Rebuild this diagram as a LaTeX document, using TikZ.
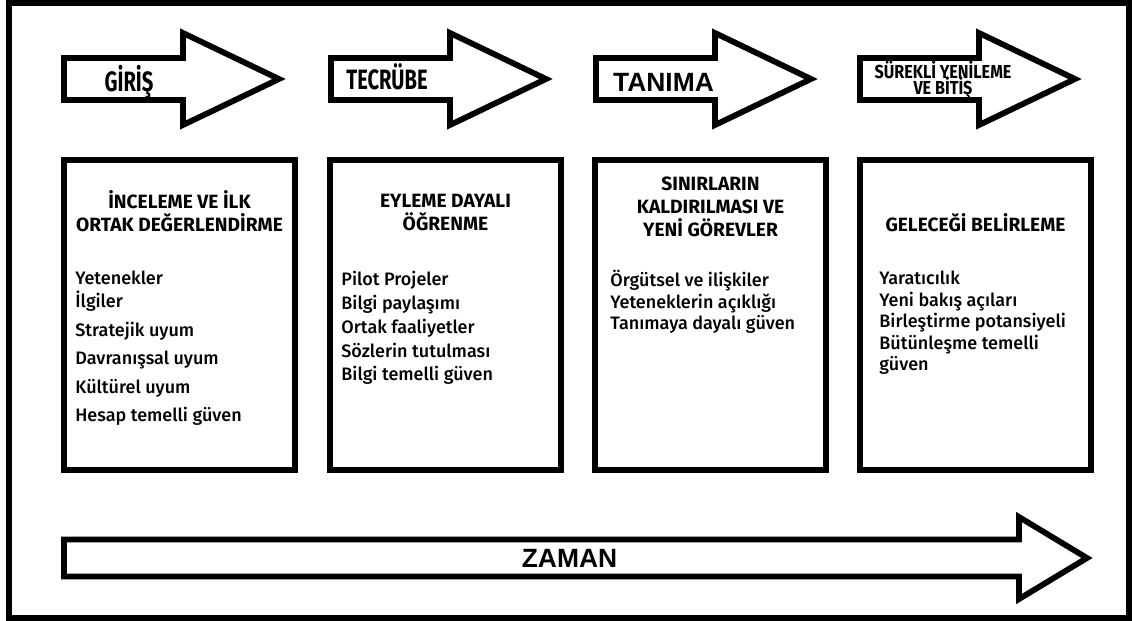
\documentclass[tikz,border=0pt]{standalone}
\usepackage{fontspec}
\setmainfont{Fira Sans}
\newfontfamily\itemfont{Fira Sans Medium}
\newfontfamily\narrowfont[FakeStretch=0.72]{Fira Sans}
\newfontfamily\midfont[FakeStretch=0.86]{Fira Sans}
\newfontfamily\widefont{Liberation Sans}
\newcommand\tightskip{\setlength{\lineskiplimit}{-20pt}}

\begin{document}
\begin{tikzpicture}[
    x=0.5pt, y=-0.5pt,
    outerframe/.style={draw, line width=3pt},
    phase/.style={draw, line width=2.9pt, line join=miter},
    card/.style={rectangle, draw, line width=2.9pt, minimum width=115.5pt, minimum height=155pt, inner sep=0pt},
    phasetext/.style={font=\narrowfont\bfseries\fontsize{14}{16}\selectfont, inner sep=0pt, anchor=base},
    widetext/.style={font=\widefont\bfseries\fontsize{13.2}{15}\selectfont, inner sep=0pt, anchor=base},
    smalltext/.style={font=\midfont\bfseries\fontsize{9.4}{8}\selectfont\tightskip, align=center, inner sep=0pt},
    cardtitle/.style={font=\bfseries\fontsize{9.6}{11.5}\selectfont, align=center, inner sep=0pt},
    items/.style={font=\itemfont\fontsize{9}{#1}\selectfont, align=left, inner sep=0pt, anchor=north west}
]
\useasboundingbox (0,0) rectangle (1132,621);

% Outer frame
\draw[outerframe] (9,3) rectangle (1129,618);

% Phase arrows along the top
\foreach \l in {64,331,596,860}
  \draw[phase] (\l,58) -- (\l+119,58) -- (\l+119,33) -- (\l+215,79)
    -- (\l+119,125) -- (\l+119,100) -- (\l,100) -- cycle;

\node[phasetext] (giris) at (129,91) {GİRİŞ};
\node[phasetext] (tecrube) at (387,90) {TECRÜBE};
\node[widetext] (tanima) at (663.5,91) {TANIMA};
\node[smalltext] (surekli) at (943,80) {SÜREKLİ YENİLEME\\VE BİTİŞ};

% Phase cards
\node[card] (card1) at (179.5,315) {};
\node[card] (card2) at (445.5,315) {};
\node[card] (card3) at (710.5,315) {};
\node[card] (card4) at (975.5,315) {};

% Card titles
\node[cardtitle] (title1) at (179.5,211) {İNCELEME VE İLK\\ORTAK DEĞERLENDİRME};
\node[cardtitle] (title2) at (445.5,213) {EYLEME DAYALI\\ÖĞRENME};
\node[cardtitle] (title3) at (710.5,207) {SINIRLARIN\\KALDIRILMASI VE\\YENİ GÖREVLER};
\node[cardtitle, anchor=base] (title4) at (975.5,231) {GELECEĞİ BELİRLEME};

% Card contents
\node[items=14.2pt] (list1) at (75,271) {Yetenekler\\[-2.7pt]İlgiler\\Stratejik uyum\\Davranışsal uyum\\Kültürel uyum\\Hesap temelli güven};
\node[items=11.9pt] (list2) at (341,271) {Pilot Projeler\\Bilgi paylaşımı\\Ortak faaliyetler\\Sözlerin tutulması\\Bilgi temelli güven};
\node[items=10.75pt] (list3) at (610,270) {Örgütsel ve ilişkiler\\Yeteneklerin açıklığı\\Tanımaya dayalı güven};
\node[items=10.75pt] (list4) at (879,271) {Yaratıcılık\\Yeni bakış açıları\\Birleştirme potansiyeli\\Bütünleşme temelli\\güven};

% Time arrow
\draw[phase] (64,539.5) -- (1019,539.5) -- (1019,517) -- (1087,558)
  -- (1019,599) -- (1019,576.5) -- (64,576.5) -- cycle;
\node[widetext] (zaman) at (569.5,567) {ZAMAN};

\end{tikzpicture}
\end{document}
